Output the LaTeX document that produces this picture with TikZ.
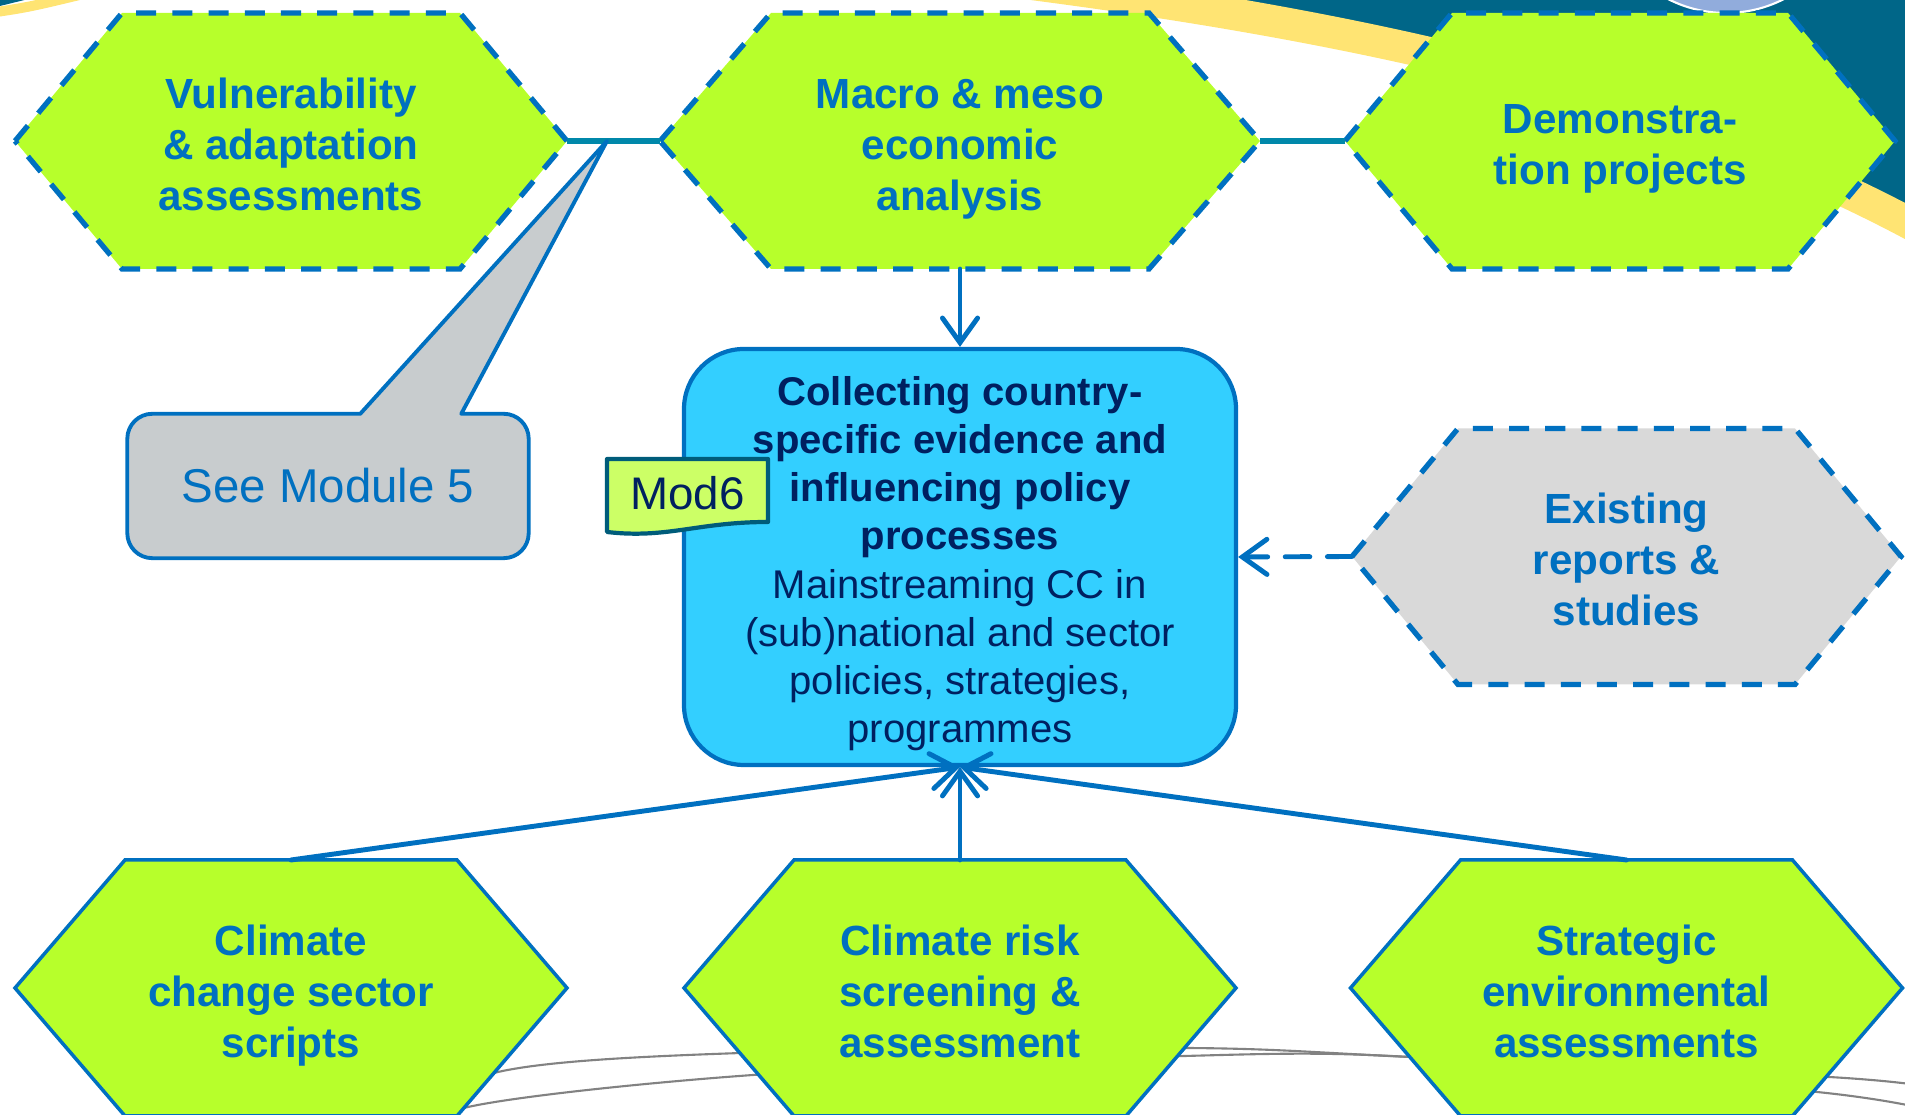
\documentclass[tikz,border=0pt]{standalone}
\usepackage{fontspec}
\setmainfont{Liberation Sans}
\usetikzlibrary{arrows.meta, positioning, calc, backgrounds}

\definecolor{limegreen}{RGB}{183,255,43}
\definecolor{boxcyan}{RGB}{51,207,255}
\definecolor{lineblue}{RGB}{0,112,192}
\definecolor{navytext}{RGB}{0,32,96}
\definecolor{linkteal}{RGB}{0,136,170}
\definecolor{calloutgray}{RGB}{200,204,206}
\definecolor{reportgray}{RGB}{217,217,217}
\definecolor{tagfill}{RGB}{204,255,102}
\definecolor{tagborder}{RGB}{0,92,122}
\definecolor{bandteal}{RGB}{0,102,136}
\definecolor{bandyellow}{RGB}{255,228,115}
\definecolor{globeblue}{RGB}{145,172,220}
\definecolor{orbitgray}{RGB}{130,130,130}

% hexagon drawn round a plain node: style, node, slant
\newcommand{\hexoutline}[3]{%
  \draw[#1] (#2.west) -- ([xshift=#3]#2.north west) -- ([xshift=-#3]#2.north east)
    -- (#2.east) -- ([xshift=-#3]#2.south east) -- ([xshift=#3]#2.south west) -- cycle;}
% even first-line height so the text sits like the slide's
\newcommand{\lift}[1][10.3pt]{\rule{0pt}{#1}}

\begin{document}
\begin{tikzpicture}[
  hexnode/.style={minimum width=#1, minimum height=2.56cm, inner sep=0pt, outer sep=0pt,
    align=center, text=lineblue, text depth=0pt, font=\fontsize{12}{14.5}\selectfont\bfseries},
  hexnode/.default=5.52cm,
  hexdash/.style={draw=lineblue, line width=1.5pt, dash pattern=on 5.7pt off 4.6pt},
  hexsolid/.style={draw=lineblue, line width=1pt},
  link/.style={draw=linkteal, line width=1.7pt},
  feed/.style={draw=lineblue, line width=1.4pt, line cap=round,
    -{Straight Barb[length=7pt, width=10pt, line cap=round]}},
  orbit/.style={draw=orbitgray, line width=0.6pt}
]
  \useasboundingbox (0,0) rectangle (19.05,11.15);

  \node[hexnode] (vuln) at (2.91,9.74) {\lift Vulnerability\\\& adaptation\\assessments};
  \node[hexnode=6cm] (macro) at (9.60,9.74) {\lift Macro \& meso\\economic\\analysis};
  \node[hexnode=5.5cm] (demo) at (16.20,9.74) {\lift Demonstra-\\tion projects};
  \node[hexnode=5.49cm] (exist) at (16.265,5.585) {\lift Existing\\reports \&\\studies};
  \node[hexnode] (ccs) at (2.91,1.27) {\lift Climate\\change sector\\scripts};
  \node[hexnode] (crs) at (9.60,1.27) {\lift Climate risk\\screening \&\\assessment};
  \node[hexnode] (sea) at (16.265,1.27) {\lift Strategic\\environmental\\assessments};

  \node[draw=lineblue, line width=1.2pt, fill=boxcyan, rounded corners=0.6cm,
    minimum width=5.52cm, minimum height=4.16cm, inner sep=0pt, align=center, text depth=0pt,
    text=navytext, font=\fontsize{11.4}{13.7}\selectfont] (core) at (9.60,5.58)
    {\lift[9.7pt]\textbf{Collecting country-}\\\textbf{specific evidence and}\\\textbf{influencing policy}\\\textbf{processes}\\
     Mainstreaming CC in\\(sub)national and sector\\policies, strategies,\\programmes};

  \node[minimum width=4.0cm, minimum height=1.43cm, inner sep=0pt, text=lineblue,
    font=\fontsize{13.5}{16}\selectfont] (see) at (3.28,6.29) {See Module 5};
  \coordinate (calltip) at ($(vuln.east)!0.43!(macro.west)$);

  \begin{pgfonlayer}{background}
    % backdrop bands
    \fill[bandteal] (10.0,11.35) .. controls (14.0,10.85) and (17.0,10.1) .. (19.4,8.75)
      -- (19.4,11.4) -- (10.0,11.4) -- cycle;
    \draw[bandyellow, line width=0.32cm] (10.0,11.35) .. controls (14.0,10.85) and (17.0,10.1) .. (19.4,8.75);
    \fill[globeblue, draw=white, line width=0.6pt] (17.26,12.29) circle (1.27);
    \fill[bandteal] (0,11.2) -- (0.45,11.2) -- (0,11.09) -- cycle;
    \draw[bandyellow, line width=0.1cm] (-0.1,11.02) .. controls (0.3,11.08) .. (1.0,11.25);
    \draw[orbit] plot[smooth] coordinates {(3.8,-0.2) (4.98,0.43) (7.41,0.62) (11.85,0.67) (14.1,0.58) (18.29,0.38) (19.3,0.28)};
    \draw[orbit] plot[smooth] coordinates {(3.9,-0.4) (4.68,0.08) (7.53,0.40) (11.85,0.59) (14.1,0.58) (18.17,0.23) (19.3,0.05)};

    \hexoutline{hexdash, fill=limegreen}{vuln}{1.07cm}
    \hexoutline{hexdash, fill=limegreen}{macro}{1.11cm}
    \hexoutline{hexdash, fill=limegreen}{demo}{1.07cm}
    \hexoutline{hexdash, fill=reportgray}{exist}{1.06cm}
    \hexoutline{hexsolid, fill=limegreen}{ccs}{1.10cm}
    \hexoutline{hexsolid, fill=limegreen}{crs}{1.10cm}
    \hexoutline{hexsolid, fill=limegreen}{sea}{1.10cm}

    \draw[link] (vuln.east) -- (macro.west);
    \draw[link] (macro.east) -- (demo.west);

    \draw[draw=lineblue, fill=calloutgray, line width=1.1pt, line join=round]
      (see.west) [rounded corners=0.25cm] -- (see.north west) [sharp corners]
      -- ([xshift=2.33cm]see.north west) -- (calltip) -- ([xshift=3.34cm]see.north west)
      [rounded corners=0.25cm] -- (see.north east) -- (see.south east) -- (see.south west) -- cycle;
  \end{pgfonlayer}

  \draw[feed] (macro.south) -- (core.north);
  \draw[feed, dash pattern=on 7pt off 5pt] (exist.west) -- (core.east);
  \draw[feed] (ccs.north) -- (core.south);
  \draw[feed] (crs.north) -- (core.south);
  \draw[feed] (sea.north) -- (core.south);

  % Mod6 tag with a wavy foot
  \coordinate (modc) at (6.875,6.18);
  \draw[draw=tagborder, fill=tagfill, line width=1.2pt, line join=round]
    ($(modc)+(-0.805,0.38)$) -- ($(modc)+(0.805,0.38)$) -- ($(modc)+(0.805,-0.25)$)
    .. controls ($(modc)+(0.1,-0.25)$) and ($(modc)+(-0.2,-0.42)$) .. ($(modc)+(-0.805,-0.35)$) -- cycle;
  \node[text=navytext, font=\fontsize{13}{15}\selectfont, inner sep=0pt] (mod) at ([yshift=0.04cm]modc) {Mod6};
\end{tikzpicture}
\end{document}
